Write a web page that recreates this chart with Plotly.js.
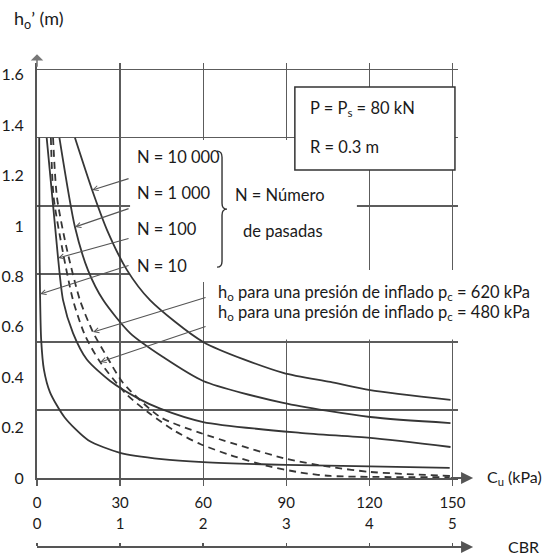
<!DOCTYPE html>
<html>
<head>
<meta charset="utf-8">
<script src="https://cdn.plot.ly/plotly-3.0.1.min.js"></script>
<style>html,body{margin:0;padding:0;background:#fff;}#chart{width:544px;height:556px;}</style>
</head>
<body>
<div id="chart"></div>
<script>
// ---- axis ticks / labels ----
const cuTicks = [0, 30, 60, 90, 120, 150];
const cuLabels = ['0', '30', '60', '90', '120', '150'];
const cbrLabels = ['0', '1', '2', '3', '4', '5'];
const hTickVals = [0, 0.2, 0.4, 0.6, 0.8, 1.0, 1.2, 1.4, 1.6];
const hTickText = ['0', '0.2', '0.4', '0.6', '0.8', '1', '1.2', '1.4', '1.6'];
const gridVals = [0, 0.27, 0.54, 0.81, 1.08, 1.35, 1.62];

// ---- curves (Cu in kPa, h0' in m) ----
const n10000X = [13.7, 19.9, 25.3, 32.5, 40.8, 60, 88.9, 105.9, 120.3, 149.3];
const n10000Y = [1.35, 1.143, 0.984, 0.825, 0.706, 0.54, 0.417, 0.381, 0.349, 0.31];

const n1000X = [8.1, 13.7, 18.4, 23.9, 33.6, 45.5, 60, 88.9, 120.3, 149.3];
const n1000Y = [1.35, 0.996, 0.825, 0.706, 0.575, 0.48, 0.385, 0.298, 0.242, 0.218];

const n100X = [3.5, 7.6, 9.4, 13, 18, 26.4, 37, 44.5, 60, 95, 120.3, 149.3];
const n100Y = [1.35, 0.873, 0.706, 0.575, 0.47, 0.385, 0.313, 0.275, 0.222, 0.179, 0.159, 0.123];

const n10X = [0.8, 0.9, 1.1, 1.5, 2.5, 4.7, 10, 18.5, 30, 45, 60, 90, 120, 149];
const n10Y = [1.35, 0.95, 0.73, 0.55, 0.43, 0.34, 0.24, 0.15, 0.10, 0.075, 0.063, 0.052, 0.046, 0.04];

const p620X = [5.8, 7.2, 10.6, 15.5, 20.2, 25.3, 31.1, 44.5, 58.9, 90, 105.9, 120.3, 149.3];
const p620Y = [1.35, 1.115, 0.917, 0.706, 0.579, 0.48, 0.377, 0.242, 0.179, 0.076, 0.044, 0.024, 0.008];

const p480X = [5.0, 6.0, 9, 13, 17.3, 22.8, 32.5, 40.8, 50, 58.9, 70, 83.1, 95, 106, 149];
const p480Y = [1.35, 1.115, 0.917, 0.706, 0.567, 0.46, 0.33, 0.255, 0.185, 0.135, 0.09, 0.048, 0.022, 0.008, 0.003];

const curveColor = '#363636';
const gridColor = '#5c5c5c';
const txtColor = '#1a1a1a';
const FONT = 'Lato, "Liberation Sans", sans-serif';

function solid(x, y, name, xa, ya) {
  return {x: x, y: y, name: name, type: 'scatter', mode: 'lines',
    line: {color: curveColor, width: 1.8, shape: 'spline', smoothing: 0.7},
    xaxis: xa || 'x', yaxis: ya || 'y', hoverinfo: 'x+y+name', showlegend: false};
}
function dashed(x, y, name) {
  return {x: x, y: y, name: name, type: 'scatter', mode: 'lines',
    line: {color: curveColor, width: 1.8, dash: '7px,5px', shape: 'spline', smoothing: 0.7},
    hoverinfo: 'x+y+name', showlegend: false};
}

const traces = [
  solid(n10000X, n10000Y, 'N = 10 000'),
  solid(n1000X, n1000Y, 'N = 1 000'),
  solid(n100X, n100Y, 'N = 100'),
  dashed(p620X, p620Y, 'pc = 620 kPa'),
  dashed(p480X, p480Y, 'pc = 480 kPa'),
  solid(n10X, n10Y, 'N = 10', 'x2', 'y2')
];

const X_MAX = 152, Y_MAX = 1.647;
const TXT = 16.5;

function txt(x, y, text, size, extra) {
  return Object.assign({x: x, y: y, xref: 'x', yref: 'y', text: text, showarrow: false,
    xanchor: 'left', yanchor: 'middle', font: {family: FONT, size: size || TXT, color: txtColor}}, extra || {});
}
function arrow(tipX, tipY, tailX, tailY) {
  return {x: tipX, y: tipY, xref: 'x', yref: 'y', axref: 'x', ayref: 'y', ax: tailX, ay: tailY,
    text: '', showarrow: true, arrowhead: 5, arrowsize: 0.9, arrowwidth: 1.1, arrowcolor: '#555'};
}

const annotations = [
  // N labels
  txt(35.4, 1.274, 'N = 10 000'),
  txt(35.4, 1.131, 'N = 1 000'),
  txt(35.4, 0.988, 'N = 100'),
  txt(35.4, 0.841, 'N = 10'),
  txt(70.8, 1.123, 'N = Número'),
  txt(73.6, 0.98, 'de pasadas'),
  // arrows to N curves
  arrow(n10000X[1], n10000Y[1], 33.6, 1.19),
  arrow(n1000X[1], n1000Y[1], 33.6, 1.071),
  arrow(n100X[1], n100Y[1], 33.6, 0.952),
  arrow(n10X[2], n10Y[2], 33.6, 0.845),
  // pressure labels
  txt(64.6, 0.738, 'h<sub>o</sub> para una presión de inflado p<sub>c</sub> = 620 kPa'),
  txt(64.6, 0.655, 'h<sub>o</sub> para una presión de inflado p<sub>c</sub> = 480 kPa'),
  arrow(p620X[4], p620Y[4], 61.4, 0.718),
  arrow(p480X[5], p480Y[5], 61.4, 0.603),
  // box text
  txt(97.8, 1.468, 'P = P<sub>s</sub> = 80 kN'),
  txt(97.8, 1.313, 'R = 0.3 m'),
  // axis titles
  {xref: 'paper', yref: 'paper', x: -0.059, y: 1.089, xanchor: 'left', yanchor: 'middle',
   text: 'h<sub>o</sub>’ (m)', showarrow: false, font: {family: FONT, size: 18, color: txtColor}},
  {xref: 'paper', yref: 'y', x: 1.064, y: 0, xanchor: 'left', yanchor: 'middle',
   text: 'C<sub>u</sub> (kPa)', showarrow: false, font: {family: FONT, size: 16, color: txtColor}},
  {xref: 'paper', yref: 'paper', x: 1.114, y: 0, yshift: 1, xanchor: 'left', yanchor: 'middle',
   text: 'CBR', showarrow: false, font: {family: FONT, size: 16, color: txtColor}},
  // axis arrowheads
  {xref: 'paper', yref: 'y', x: 1.036, y: 0, axref: 'pixel', ayref: 'pixel', ax: -24, ay: 0, text: '',
   showarrow: true, arrowhead: 2, arrowsize: 1.1, arrowwidth: 2.2, arrowcolor: '#555'},
  {xref: 'paper', yref: 'paper', x: 1.036, y: 0, axref: 'pixel', ayref: 'pixel', ax: -24, ay: 0, text: '',
   showarrow: true, arrowhead: 2, arrowsize: 1.1, arrowwidth: 2.2, arrowcolor: '#555'},
  {xref: 'x', yref: 'paper', x: 0, y: 1.018, axref: 'pixel', ayref: 'pixel', ax: 0, ay: 14, text: '',
   showarrow: true, arrowhead: 1, arrowsize: 1.3, arrowwidth: 1.6, arrowcolor: '#777'}
];

const shapes = [
  {type: 'rect', xref: 'x', yref: 'y', x0: 33.6, x1: 115.5, y0: 0.778, y1: 1.341,
   fillcolor: '#fff', line: {width: 0}, layer: 'between'},
  {type: 'rect', xref: 'x', yref: 'y', x0: 62.5, x1: 155, y0: 0.55, y1: 0.825,
   fillcolor: '#fff', line: {width: 0}, layer: 'between'},
  {type: 'rect', xref: 'x', yref: 'y', x0: 93.1, x1: 150.9, y0: 1.222, y1: 1.552,
   fillcolor: '#fff', line: {color: '#333', width: 1.5}, layer: 'between'},
  {type: 'path', xref: 'x', yref: 'y', xsizemode: 'pixel', ysizemode: 'pixel', xanchor: 66.8, yanchor: 1.067,
   path: 'M -5,58 Q 0,58 0,52 L 0,6 Q 0,0 5,0 Q 0,0 0,-6 L 0,-52 Q 0,-58 -5,-58',
   line: {color: '#333', width: 1.4}, layer: 'above'}
];

const yTickFont = {family: FONT, size: 16, color: txtColor};
const xTickFont = {family: FONT, size: 15, color: txtColor};

const layout = {
  width: 544, height: 556,
  margin: {l: 37, r: 86, t: 63, b: 9},
  paper_bgcolor: '#fff', plot_bgcolor: '#fff',
  showlegend: false,
  xaxis: {range: [0, X_MAX], tickvals: cuTicks, ticktext: cuLabels, showgrid: true,
    gridcolor: gridColor, gridwidth: 1.3, zeroline: false, showline: true, linecolor: '#555', linewidth: 2.4,
    ticks: 'outside', ticklen: 6, tickcolor: gridColor, tickwidth: 1.3, ticklabelstandoff: 4,
    tickfont: xTickFont, fixedrange: true},
  xaxis2: {range: [0, X_MAX], overlaying: 'x', anchor: 'free', position: 0, side: 'top',
    tickvals: cuTicks, ticktext: cbrLabels, showgrid: false, zeroline: false, showline: true,
    linecolor: '#555', linewidth: 2.2, ticks: 'outside', ticklen: 3, tickcolor: '#555', tickwidth: 1.5,
    ticklabelstandoff: 8, tickfont: xTickFont, fixedrange: true},
  yaxis: {range: [0, Y_MAX], domain: [0.1426, 1], tickvals: hTickVals, ticktext: hTickText,
    showgrid: false, zeroline: false, showline: true, linecolor: '#555', linewidth: 2,
    ticks: '', ticklabelstandoff: 8, tickfont: yTickFont, fixedrange: true},
  yaxis2: {range: [0, Y_MAX], overlaying: 'y', side: 'left', tickvals: gridVals, showticklabels: false,
    showgrid: true, gridcolor: gridColor, gridwidth: 1.3, zeroline: false, showline: false, ticks: '',
    fixedrange: true},
  annotations: annotations,
  shapes: shapes
};

Plotly.newPlot('chart', traces, layout, {displayModeBar: false, staticPlot: true});
</script>
</body>
</html>
